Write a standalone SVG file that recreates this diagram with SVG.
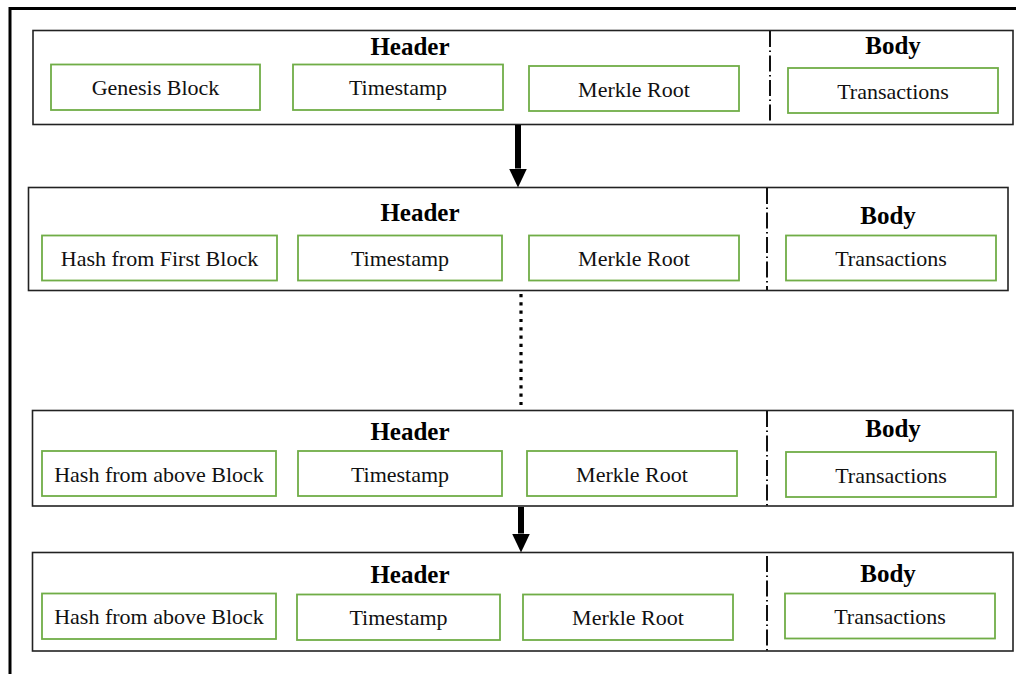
<svg xmlns="http://www.w3.org/2000/svg" width="1016" height="674" viewBox="0 0 1016 674">
<style>
.blk{fill:#fff;stroke:#222;stroke-width:1.6}
.fld{fill:#fff;stroke:#70ad47;stroke-width:1.8}
.div{stroke:#111;stroke-width:2;stroke-dasharray:16 3.5 1.5 3.5}
.t{font-family:"Liberation Serif","Times New Roman",serif;font-size:22px;fill:#111;text-anchor:middle}
.h{font-family:"Liberation Serif","Times New Roman",serif;font-size:25px;font-weight:bold;fill:#000;text-anchor:middle}
</style>
<defs>
<marker id="ah" markerWidth="19" markerHeight="18" refX="0" refY="9" orient="auto" markerUnits="userSpaceOnUse" viewBox="0 0 19 18">
<path d="M0,0 L19,9 L0,18 Z" fill="#000"/>
</marker>
</defs>
<rect width="1016" height="674" fill="#fff"/>
<path d="M10,674 V8.5 H1016" fill="none" stroke="#000" stroke-width="3"/>

<g id="block1">
<rect class="blk" x="33" y="30.5" width="980" height="94"/>
<line class="div" x1="770" y1="31" x2="770" y2="124"/>
<text class="h" x="410" y="55">Header</text>
<text class="h" x="893" y="54">Body</text>
<rect class="fld" x="51" y="64.5" width="209" height="45.5"/>
<text class="t" x="155.5" y="95">Genesis Block</text>
<rect class="fld" x="293" y="64.5" width="210" height="45.5"/>
<text class="t" x="398" y="95">Timestamp</text>
<rect class="fld" x="529" y="66" width="210" height="45"/>
<text class="t" x="634" y="96.5">Merkle Root</text>
<rect class="fld" x="788" y="68" width="210" height="45"/>
<text class="t" x="893" y="98.5">Transactions</text>
</g>

<g id="block2">
<rect class="blk" x="28.5" y="187.5" width="979.5" height="103"/>
<line class="div" x1="767" y1="188" x2="767" y2="290"/>
<text class="h" x="420" y="221">Header</text>
<text class="h" x="888" y="224">Body</text>
<rect class="fld" x="42" y="235.5" width="235" height="45"/>
<text class="t" x="159.5" y="266">Hash from First Block</text>
<rect class="fld" x="298" y="235.5" width="204" height="45"/>
<text class="t" x="400" y="266">Timestamp</text>
<rect class="fld" x="529" y="235.5" width="210" height="45"/>
<text class="t" x="634" y="266">Merkle Root</text>
<rect class="fld" x="786" y="235.5" width="210" height="45"/>
<text class="t" x="891" y="266">Transactions</text>
</g>

<g id="block3">
<rect class="blk" x="32.5" y="410.5" width="980.5" height="95.5"/>
<line class="div" x1="767" y1="411" x2="767" y2="506"/>
<text class="h" x="410" y="440">Header</text>
<text class="h" x="893" y="437">Body</text>
<rect class="fld" x="42" y="451" width="234" height="45"/>
<text class="t" x="159" y="481.5">Hash from above Block</text>
<rect class="fld" x="298" y="451" width="204" height="45"/>
<text class="t" x="400" y="481.5">Timestamp</text>
<rect class="fld" x="527" y="451" width="210" height="45"/>
<text class="t" x="632" y="481.5">Merkle Root</text>
<rect class="fld" x="786" y="452" width="210" height="45"/>
<text class="t" x="891" y="482.5">Transactions</text>
</g>

<g id="block4">
<rect class="blk" x="32.5" y="552.5" width="980.5" height="98.5"/>
<line class="div" x1="767" y1="556" x2="767" y2="651"/>
<text class="h" x="410" y="583">Header</text>
<text class="h" x="888" y="582">Body</text>
<rect class="fld" x="42" y="593.5" width="234" height="45.5"/>
<text class="t" x="159" y="624">Hash from above Block</text>
<rect class="fld" x="297" y="594.5" width="203" height="45.5"/>
<text class="t" x="398.5" y="625">Timestamp</text>
<rect class="fld" x="523" y="594.5" width="210" height="45.5"/>
<text class="t" x="628" y="625">Merkle Root</text>
<rect class="fld" x="785" y="593.5" width="210" height="45"/>
<text class="t" x="890" y="624">Transactions</text>
</g>

<g id="connectors">
<line x1="518" y1="125" x2="518" y2="168.5" stroke="#000" stroke-width="6" marker-end="url(#ah)"/>
<line x1="521" y1="294" x2="521" y2="406" stroke="#000" stroke-width="3.2" stroke-dasharray="3.2 5.1"/>
<line x1="521" y1="507" x2="521" y2="533.5" stroke="#000" stroke-width="6" marker-end="url(#ah)"/>
</g>
</svg>
